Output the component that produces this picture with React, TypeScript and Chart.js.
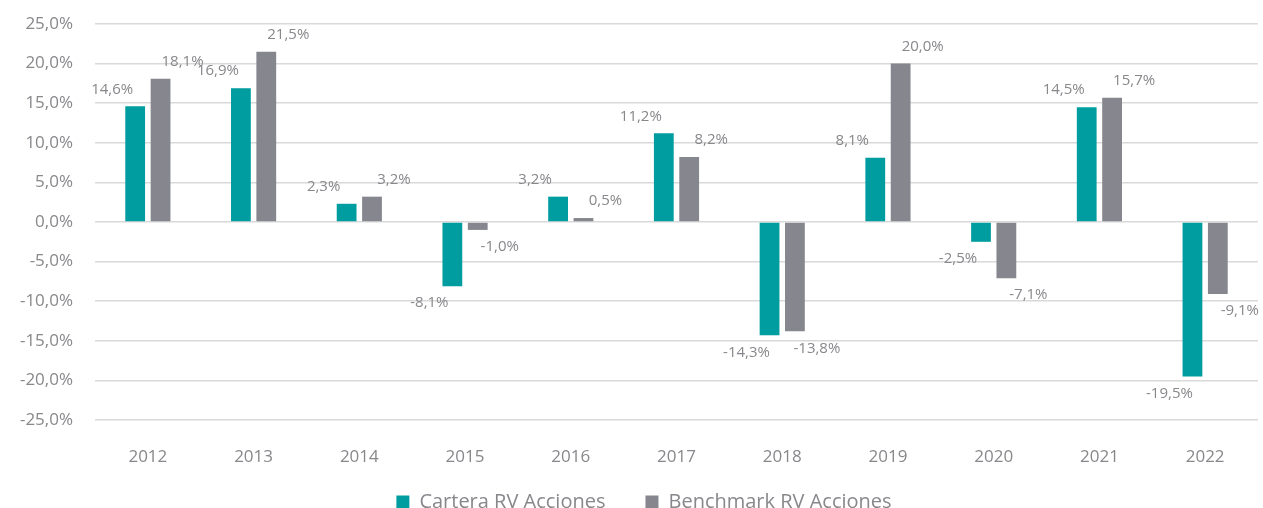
import React, { useEffect, useRef } from "react";
import { Chart, registerables } from "chart.js";

Chart.register(...registerables);

const categories = ["2012", "2013", "2014", "2015", "2016", "2017", "2018", "2019", "2020", "2021", "2022"];
const cartera = [14.6, 16.9, 2.3, -8.1, 3.2, 11.2, -14.3, 8.1, -2.5, 14.5, -19.5];
const benchmark = [18.1, 21.5, 3.2, -1.0, 0.5, 8.2, -13.8, 20.0, -7.1, 15.7, -9.1];
const seriesNames = ["Cartera RV Acciones", "Benchmark RV Acciones"];

const TEAL = "#009DA0";
const GRAY = "#85868E";
const TEXT = "#88888C";
const FONT = "'Open Sans', 'Noto Sans', sans-serif";
const LEGEND_PAD = 40;
const LEGEND_FONT = 20;
const LEGEND_Y = 502;
const LEGEND_SHIFT_X = 15;

const fmt = (v: number) => v.toFixed(1).replace(".", ",") + "%";

const labelPlugin = {
  id: "barLabels",
  afterDatasetsDraw(chart: any) {
    const ctx = chart.ctx;
    ctx.save();
    ctx.font = `15px ${FONT}`;
    ctx.fillStyle = TEXT;
    ctx.textAlign = "center";
    ctx.textBaseline = "middle";
    chart.data.datasets.forEach((ds: any, di: number) => {
      const meta = chart.getDatasetMeta(di);
      meta.data.forEach((bar: any, i: number) => {
        const v = ds.data[i];
        const dx = di === 0 ? -23 : 22;
        const dy = v >= 0 ? -17 : 17;
        ctx.fillText(fmt(v), bar.x + dx, bar.y + dy);
      });
    });
    ctx.restore();
  },
};

const legendFitPlugin = {
  id: "legendFit",
  beforeInit(chart: any) {
    const legend = chart.legend;
    if (!legend) return;
    const orig = legend.fit;
    legend.fit = function () {
      orig.call(this);
      this.height = 32;
    };
  },
  afterLayout(chart: any) {
    const legend = chart.legend;
    if (!legend) return;
    const top = LEGEND_Y - LEGEND_PAD - LEGEND_FONT / 2;
    legend.top = top;
    legend.bottom = chart.height;
    legend.height = chart.height - top;
    legend.left += LEGEND_SHIFT_X;
    legend.right += LEGEND_SHIFT_X;
  },
};

export default function App() {
  const ref = useRef<HTMLCanvasElement>(null);
  useEffect(() => {
    if (!ref.current) return;
    const chart = new Chart(ref.current, {
      type: "bar",
      data: {
        labels: categories,
        datasets: [
          { label: seriesNames[0], data: cartera, backgroundColor: TEAL, categoryPercentage: 0.48, barPercentage: 0.78 },
          { label: seriesNames[1], data: benchmark, backgroundColor: GRAY, categoryPercentage: 0.48, barPercentage: 0.78 },
        ],
      },
      options: {
        animation: false,
        responsive: false,
        maintainAspectRatio: false,
        layout: { padding: { top: 24, right: 5, left: 0, bottom: 2 } },
        scales: {
          x: {
            grid: { display: false },
            border: { display: false },
            ticks: { color: TEXT, font: { size: 17, family: FONT }, padding: 19 },
            afterFit: (s: any) => { s.height = 54; },
          },
          y: {
            min: -25,
            max: 25,
            ticks: {
              stepSize: 5,
              color: TEXT,
              font: { size: 17, family: FONT },
              padding: 22,
              callback: (v: any) => fmt(Number(v)),
            },
            grid: { color: "#D9D9D9", lineWidth: 1.5, drawTicks: false },
            border: { display: false },
            afterFit: (s: any) => { s.width = 95; s.paddingTop = 0; s.paddingBottom = 0; },
          },
        },
        plugins: {
          legend: {
            position: "bottom",
            labels: {
              color: TEXT,
              font: { size: LEGEND_FONT, family: FONT },
              boxWidth: 13,
              boxHeight: 13,
              padding: LEGEND_PAD,
            },
          },
          tooltip: { enabled: false },
        },
      },
      plugins: [labelPlugin, legendFitPlugin],
    });
    return () => chart.destroy();
  }, []);
  return (
    <div style={{ position: "absolute", left: 0, top: 0, width: 1263, height: 508, background: "#fff" }}>
      <canvas ref={ref} width={1263} height={508} style={{ display: "block" }} />
    </div>
  );
}
